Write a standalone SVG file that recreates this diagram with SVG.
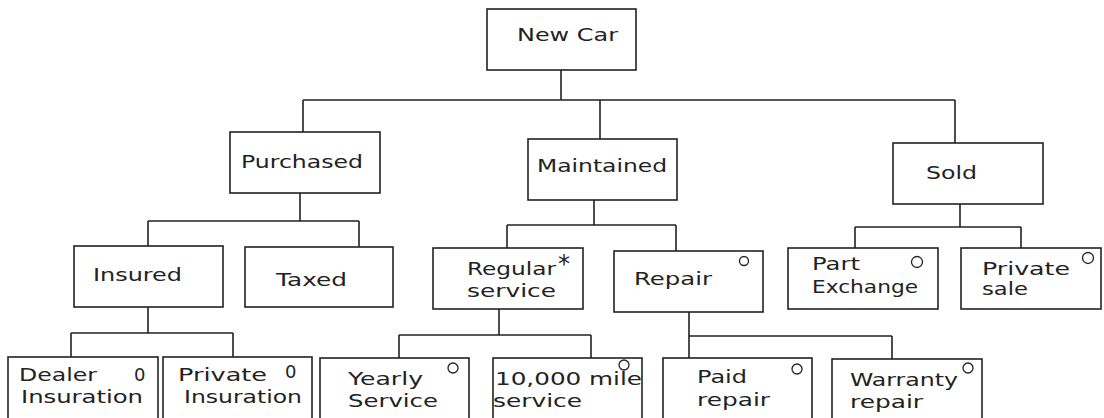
<svg xmlns="http://www.w3.org/2000/svg" width="1104" height="418" viewBox="0 0 1104 418">
<style>
.box{fill:#fff;stroke:#222;stroke-width:1.6}
.ln{fill:none;stroke:#222;stroke-width:1.6}
.t{font-family:"DejaVu Sans","Liberation Sans",sans-serif;font-size:18px;fill:#222}
.mk{fill:none;stroke:#222;stroke-width:1.3}
</style>
<rect width="1104" height="418" fill="#fff"/>
<g id="connectors">
<path class="ln" d="M561 70V100M303 100H955M303 100V132M600 100V139M955 100V143"/>
<path class="ln" d="M300 193V221M148 221H359M148 221V246M359 221V247"/>
<path class="ln" d="M148 307V333M71 333H233M71 333V357M233 333V357"/>
<path class="ln" d="M594 200V225M507 225H676M507 225V248M676 225V251"/>
<path class="ln" d="M499 309V335M399 335H591M399 335V358M591 335V358"/>
<path class="ln" d="M689 312V358M689 336H892M892 336V359"/>
<path class="ln" d="M960 204V227M855 227H1021M855 227V248M1021 227V248"/>
</g>
<g id="new-car"><rect class="box" x="487" y="9" width="149" height="61"/><text class="t" x="517" y="41" textLength="101" lengthAdjust="spacingAndGlyphs">New Car</text></g>
<g id="purchased"><rect class="box" x="230" y="132" width="150" height="61"/><text class="t" x="241" y="168" textLength="122" lengthAdjust="spacingAndGlyphs">Purchased</text></g>
<g id="maintained"><rect class="box" x="528" y="139" width="149" height="61"/><text class="t" x="537" y="172" textLength="130" lengthAdjust="spacingAndGlyphs">Maintained</text></g>
<g id="sold"><rect class="box" x="893" y="143" width="150" height="61"/><text class="t" x="926" y="179" textLength="51" lengthAdjust="spacingAndGlyphs">Sold</text></g>
<g id="insured"><rect class="box" x="74" y="246" width="149" height="61"/><text class="t" x="93" y="281" textLength="89" lengthAdjust="spacingAndGlyphs">Insured</text></g>
<g id="taxed"><rect class="box" x="245" y="247" width="148" height="60"/><text class="t" x="276" y="286" textLength="71" lengthAdjust="spacingAndGlyphs">Taxed</text></g>
<g id="regular-service"><rect class="box" x="433" y="248" width="150" height="61"/><text class="t" x="467" y="275" textLength="89" lengthAdjust="spacingAndGlyphs">Regular</text><text class="t" x="467" y="297" textLength="89" lengthAdjust="spacingAndGlyphs">service</text><text class="t" x="558" y="272" style="font-size:24px">*</text></g>
<g id="repair"><rect class="box" x="614" y="251" width="149" height="61"/><text class="t" x="634" y="285" textLength="78" lengthAdjust="spacingAndGlyphs">Repair</text><circle class="mk" cx="744" cy="261" r="4.5"/></g>
<g id="part-exchange"><rect class="box" x="788" y="248" width="150" height="61"/><text class="t" x="812" y="270" textLength="48" lengthAdjust="spacingAndGlyphs">Part</text><text class="t" x="812" y="293" textLength="106" lengthAdjust="spacingAndGlyphs">Exchange</text><circle class="mk" cx="917" cy="262" r="5.5"/></g>
<g id="private-sale"><rect class="box" x="961" y="248" width="140" height="61"/><text class="t" x="982" y="275" textLength="88" lengthAdjust="spacingAndGlyphs">Private</text><text class="t" x="982" y="295" textLength="46" lengthAdjust="spacingAndGlyphs">sale</text><circle class="mk" cx="1088" cy="258" r="5.5"/></g>
<g id="dealer-insuration"><rect class="box" x="8" y="357" width="150" height="70"/><text class="t" x="19" y="381" textLength="78" lengthAdjust="spacingAndGlyphs">Dealer</text><text class="t" x="21" y="403" textLength="122" lengthAdjust="spacingAndGlyphs">Insuration</text><text class="t" x="134" y="381">0</text></g>
<g id="private-insuration"><rect class="box" x="163" y="357" width="149" height="70"/><text class="t" x="178" y="381" textLength="89" lengthAdjust="spacingAndGlyphs">Private</text><text class="t" x="184" y="403" textLength="118" lengthAdjust="spacingAndGlyphs">Insuration</text><text class="t" x="285" y="378">0</text></g>
<g id="yearly-service"><rect class="box" x="320" y="358" width="149" height="70"/><text class="t" x="348" y="385" textLength="75" lengthAdjust="spacingAndGlyphs">Yearly</text><text class="t" x="348" y="407" textLength="90" lengthAdjust="spacingAndGlyphs">Service</text><circle class="mk" cx="453" cy="368" r="5"/></g>
<g id="mile-service"><rect class="box" x="493" y="358" width="149" height="70"/><text class="t" x="495" y="385" textLength="147" lengthAdjust="spacingAndGlyphs">10,000 mile</text><text class="t" x="493" y="407" textLength="89" lengthAdjust="spacingAndGlyphs">service</text><circle class="mk" cx="624" cy="365" r="5"/></g>
<g id="paid-repair"><rect class="box" x="663" y="358" width="149" height="70"/><text class="t" x="697" y="383" textLength="50" lengthAdjust="spacingAndGlyphs">Paid</text><text class="t" x="697" y="406" textLength="73" lengthAdjust="spacingAndGlyphs">repair</text><circle class="mk" cx="797" cy="369" r="5"/></g>
<g id="warranty-repair"><rect class="box" x="832" y="359" width="150" height="70"/><text class="t" x="850" y="386" textLength="108" lengthAdjust="spacingAndGlyphs">Warranty</text><text class="t" x="850" y="408" textLength="73" lengthAdjust="spacingAndGlyphs">repair</text><circle class="mk" cx="968" cy="368" r="5"/></g>
</svg>
